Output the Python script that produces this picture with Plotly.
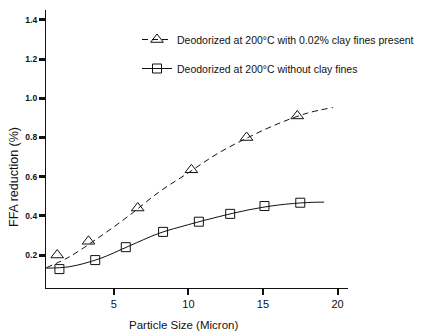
import plotly.graph_objects as go

# Marker data
size_clay = [1.2, 3.3, 6.6, 10.2, 13.9, 17.3]
ffa_clay = [0.20, 0.27, 0.44, 0.635, 0.80, 0.91]

size_noclay = [1.35, 3.75, 5.8, 8.3, 10.7, 12.8, 15.1, 17.5]
ffa_noclay = [0.128, 0.174, 0.24, 0.318, 0.37, 0.41, 0.45, 0.467]

# Fitted curves
curve_x_clay = [0.47, 2, 4, 6, 8, 10, 12, 14, 16, 18, 19.7]
curve_y_clay = [0.135, 0.19, 0.29, 0.40, 0.52, 0.62, 0.72, 0.80, 0.87, 0.925, 0.953]

curve_x_noclay = [0.47, 2, 4, 6, 8, 10, 12, 14, 16, 18, 19.1]
curve_y_noclay = [0.133, 0.14, 0.18, 0.245, 0.31, 0.355, 0.395, 0.43, 0.455, 0.468, 0.47]

x_ticks = [5, 10, 15, 20]
y_ticks = [0.2, 0.4, 0.6, 0.8, 1.0, 1.2, 1.4]

label_clay = "Deodorized at 200°C with 0.02% clay fines present"
label_noclay = "Deodorized at 200°C without clay fines"

FONT = "Liberation Sans, Arial, sans-serif"
BLACK = "#111111"
DASH = "6px,4px"

# page has an 8px body margin; figure sized to fit the 426x333 window
OFF = 8
W, H = 426 - OFF, 333 - OFF
ML, MT = 46 - OFF, 10 - OFF
MR = W - (348 - OFF)
MB = H - (288 - OFF)
PW, PH = W - ML - MR, H - MT - MB

def px_x(p):
    return (p - OFF - ML) / PW

def px_y(p):
    return 1 - (p - OFF - MT) / PH

fig = go.Figure()

fig.add_trace(go.Scatter(x=curve_x_clay, y=curve_y_clay, mode="lines",
                         line=dict(color=BLACK, width=1, dash=DASH, shape="spline"),
                         showlegend=False, hoverinfo="skip"))
fig.add_trace(go.Scatter(x=curve_x_noclay, y=curve_y_noclay, mode="lines",
                         line=dict(color=BLACK, width=1, shape="spline"),
                         showlegend=False, hoverinfo="skip"))
fig.add_trace(go.Scatter(x=size_clay, y=ffa_clay, mode="markers",
                         marker=dict(symbol="triangle-up-open", size=11, color=BLACK,
                                     line=dict(width=1, color=BLACK)),
                         showlegend=False))
fig.add_trace(go.Scatter(x=size_noclay, y=ffa_noclay, mode="markers",
                         marker=dict(symbol="square-open", size=9, color=BLACK,
                                     line=dict(width=1, color=BLACK)),
                         showlegend=False))
# legend entries
fig.add_trace(go.Scatter(x=[None], y=[None], mode="lines+markers", name=label_clay,
                         legendgroup="a",
                         line=dict(color=BLACK, width=1, dash=DASH),
                         marker=dict(symbol="triangle-up-open", size=11, color=BLACK,
                                     line=dict(width=1, color=BLACK))))
fig.add_trace(go.Scatter(x=[None], y=[None], mode="lines+markers", name=label_noclay,
                         legendgroup="b",
                         line=dict(color=BLACK, width=1),
                         marker=dict(symbol="square-open", size=9, color=BLACK,
                                     line=dict(width=1, color=BLACK))))

fig.update_layout(
    width=W, height=H,
    margin=dict(l=ML, r=MR, t=MT, b=MB, autoexpand=False),
    paper_bgcolor="white", plot_bgcolor="white",
    font=dict(family=FONT, color=BLACK, size=10),
    legend=dict(x=px_x(137), y=px_y(25), xanchor="left", yanchor="top",
                bgcolor="rgba(0,0,0,0)", font=dict(size=10.5, family=FONT),
                traceorder="grouped", tracegroupgap=10, itemwidth=30),
    xaxis=dict(range=[0.45, 20.7], tickvals=x_ticks, ticktext=[str(v) for v in x_ticks],
               showgrid=False, zeroline=False, showline=True, linecolor=BLACK, linewidth=1.2,
               ticks="outside", ticklen=6, tickwidth=2, tickcolor=BLACK,
               tickfont=dict(size=11, family=FONT)),
    yaxis=dict(range=[0.0315, 1.451], tickvals=y_ticks, ticktext=["%.1f" % v for v in y_ticks],
               showgrid=False, zeroline=False, showline=True, linecolor=BLACK, linewidth=1.2,
               ticks="outside", ticklen=6, tickwidth=2.5, tickcolor=BLACK,
               tickfont=dict(size=8.5, family=FONT, weight="bold")),
    annotations=[
        dict(text="FFA reduction (%)", textangle=-90, x=px_x(14), y=px_y(177),
             xref="paper", yref="paper", xanchor="center", yanchor="middle",
             showarrow=False, font=dict(size=12.5, family=FONT)),
        dict(text="Particle Size (Micron)", x=px_x(183), y=px_y(325),
             xref="paper", yref="paper", xanchor="center", yanchor="middle",
             showarrow=False, font=dict(size=11.5, family=FONT)),
    ],
)

fig.write_html("out.html")
